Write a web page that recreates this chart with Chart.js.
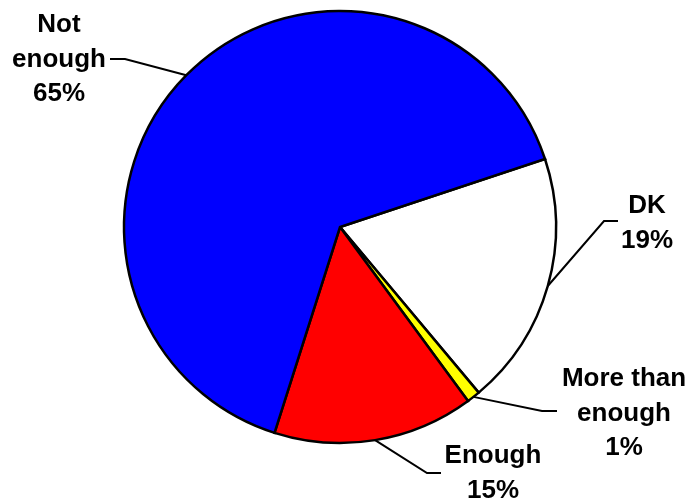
<!DOCTYPE html>
<html>
<head>
<meta charset="utf-8">
<script src="https://cdn.jsdelivr.net/npm/chart.js@4/dist/chart.umd.min.js"></script>
<style>
  html, body { margin: 0; padding: 0; background: #ffffff; }
  #wrap { width: 694px; height: 502px; position: relative; }
</style>
</head>
<body>
<div id="wrap"><canvas id="pie" width="694" height="502"></canvas></div>
<script>
// Survey answer categories, in clockwise drawing order
const categories = ['DK', 'More than enough', 'Enough', 'Not enough'];
// Share of respondents (%)
const values = [19, 1, 15, 65];
// How each category name is broken over lines in its label
const labelText = ['DK', 'More than\nenough', 'Enough', 'Not\nenough'];
const sliceColors = ['#ffffff', '#ffff00', '#ff0000', '#0000ff'];

// Label placement: text centre / first baseline, and the leader line's elbow and end
const labelLayout = [
  { x: 647, y: 213, elbow: [604, 221], end: [618, 221] },
  { x: 624, y: 386, elbow: [542, 411], end: [557, 411] },
  { x: 493, y: 463, elbow: [427, 473], end: [441, 473] },
  { x: 59,  y: 32,  elbow: [125, 59],  end: [110, 59] }
];

const calloutPlugin = {
  id: 'callouts',
  afterDatasetsDraw(chart) {
    const ctx = chart.ctx;
    const meta = chart.getDatasetMeta(0);
    const lineH = 34.5;
    ctx.save();
    meta.data.forEach((arc, i) => {
      const p = arc.getProps(['x', 'y', 'startAngle', 'endAngle', 'outerRadius'], true);
      const mid = (p.startAngle + p.endAngle) / 2;
      const ax = p.x + Math.cos(mid) * p.outerRadius;
      const ay = p.y + Math.sin(mid) * p.outerRadius;
      const L = labelLayout[i];
      ctx.beginPath();
      ctx.moveTo(ax, ay);
      ctx.lineTo(L.elbow[0], L.elbow[1]);
      ctx.lineTo(L.end[0], L.end[1]);
      ctx.strokeStyle = '#000000';
      ctx.lineWidth = 2;
      ctx.lineJoin = 'miter';
      ctx.stroke();

      const lines = labelText[i].split('\n').concat([values[i] + '%']);
      ctx.fillStyle = '#000000';
      ctx.font = 'bold 26px "Liberation Sans", Arial, sans-serif';
      ctx.textAlign = 'center';
      ctx.textBaseline = 'alphabetic';
      lines.forEach((t, k) => ctx.fillText(t, L.x, L.y + k * lineH));
    });
    ctx.restore();
  }
};

new Chart(document.getElementById('pie'), {
  type: 'pie',
  data: {
    labels: categories,
    datasets: [{
      data: values,
      backgroundColor: sliceColors,
      borderColor: '#000000',
      borderWidth: 2.5,
      borderJoinStyle: 'miter'
    }]
  },
  options: {
    responsive: false,
    animation: false,
    rotation: 71.65,
    radius: 216,
    layout: { padding: { left: 0, right: 14, top: 0, bottom: 48 } },
    plugins: {
      legend: { display: false },
      tooltip: { enabled: false }
    }
  },
  plugins: [calloutPlugin]
});
</script>
</body>
</html>
